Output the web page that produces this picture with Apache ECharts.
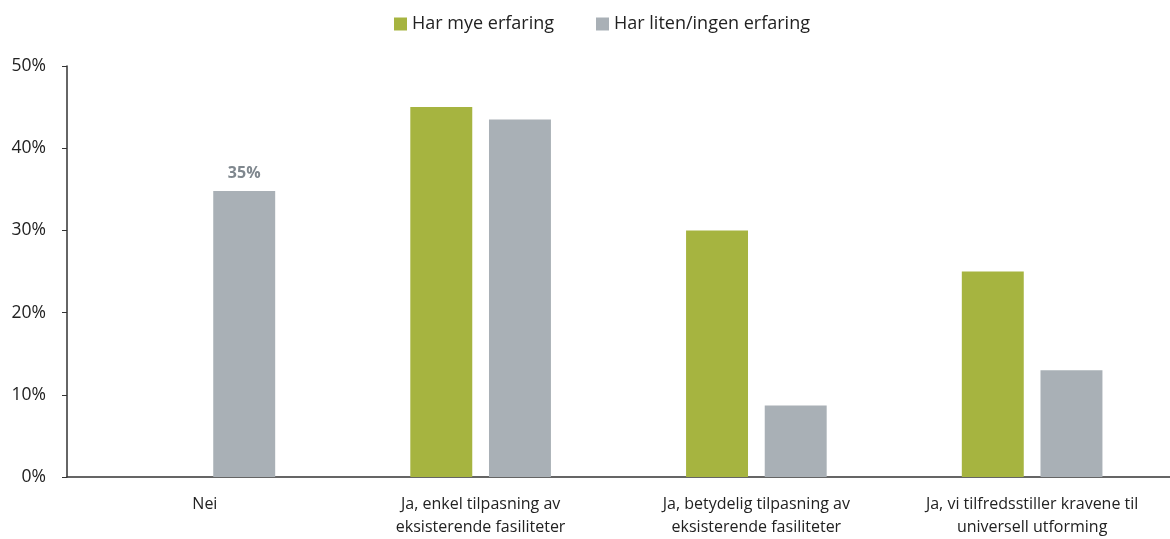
<!DOCTYPE html>
<html>
<head>
<meta charset="utf-8">
<script src="https://cdn.jsdelivr.net/npm/echarts@6/dist/echarts.min.js"></script>
<style>
  html, body { margin: 0; padding: 0; background: #fff; }
  #chart { width: 1170px; height: 539px; }
</style>
</head>
<body>
<div id="chart"></div>
<script>
var categories = ['Nei', 'Ja, enkel tilpasning av\neksisterende fasiliteter', 'Ja, betydelig tilpasning av\neksisterende fasiliteter', 'Ja, vi tilfredsstiller kravene til\nuniversell utforming'];
var mye = [null, 45, 30, 25];
var liten = [34.8, 43.5, 8.7, 13];
var seriesNames = ['Har mye erfaring', 'Har liten/ingen erfaring'];

var chart = echarts.init(document.getElementById('chart'));
var font = 'Open Sans, Liberation Sans, Arial, sans-serif';

// only the first grey bar carries a label
var litenData = liten.map(function(v, i) {
    if (i === 0) {
        return {
            value: v,
            label: {
                show: true, position: 'top', distance: 10,
                formatter: function(p) { return Math.round(p.value) + '%'; },
                color: '#7f878e', fontWeight: 'bold', fontSize: 16, fontFamily: font
            }
        };
    }
    return v;
});

var option = {
    animation: false,
    legend: {
        top: 10, left: 389,
        itemWidth: 13, itemHeight: 13, itemGap: 42,
        textStyle: { fontSize: 18, color: '#222', fontFamily: font },
        data: seriesNames.map(function(n) { return { name: n, icon: 'rect' }; })
    },
    grid: { left: 67, right: -4, top: 66, bottom: 57 },
    xAxis: {
        type: 'category',
        data: categories,
        axisLine: { lineStyle: { color: '#333', width: 1.5 } },
        axisTick: { show: false },
        axisLabel: { color: '#222', fontSize: 16, fontFamily: font, lineHeight: 23, margin: 16, interval: 0 }
    },
    yAxis: {
        type: 'value',
        min: 0, max: 50, interval: 10,
        splitLine: { show: false },
        axisLine: { show: true, lineStyle: { color: '#333', width: 1.5 } },
        axisTick: { show: true, length: 5, lineStyle: { color: '#333' } },
        axisLabel: { formatter: '{value}%', color: '#222', fontSize: 17.5, fontFamily: font, margin: 21 }
    },
    series: [
        {
            name: seriesNames[0], type: 'bar', data: mye,
            barGap: '27%', barCategoryGap: '49%',
            itemStyle: { color: '#a6b440' }
        },
        {
            name: seriesNames[1], type: 'bar', data: litenData,
            itemStyle: { color: '#a9b0b6' }
        }
    ]
};
chart.setOption(option);
</script>
</body>
</html>
